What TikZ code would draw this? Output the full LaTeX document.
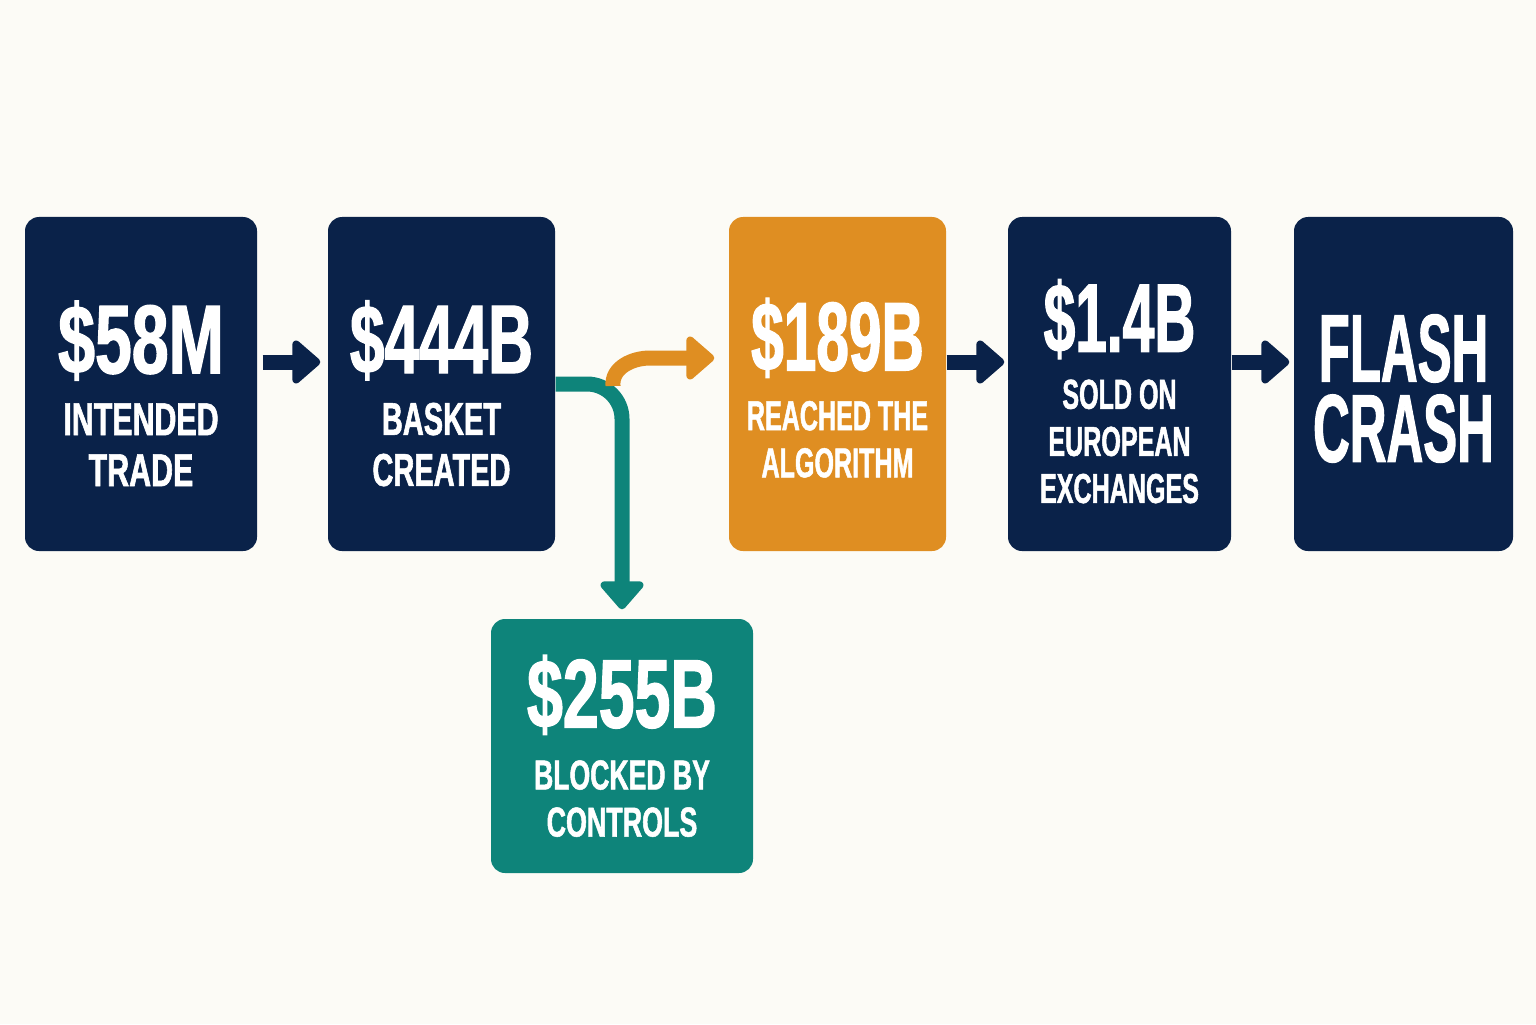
\documentclass[tikz,border=0pt]{standalone}
\usepackage{fontspec}
\usepackage{graphicx}
\usetikzlibrary{arrows.meta}
\newfontfamily\condfont{Liberation Sans}[FakeStretch=0.6,BoldFeatures={FakeBold=1.2}]
\definecolor{navy}{RGB}{10,34,73}
\definecolor{amber}{RGB}{223,142,34}
\definecolor{teal}{RGB}{14,132,122}
\definecolor{paper}{RGB}{252,251,246}
\def\bignum{\fontsize{27.8}{30}\selectfont}
\def\lblA{\fontsize{13.1}{14.5}\selectfont}
\def\lblB{\fontsize{11.9}{13.4}\selectfont}
\def\wide#1#2{\scalebox{#1}[1]{#2}}
\def\topgap#1{\rule{0pt}{#1}}

\begin{document}
\begin{tikzpicture}[
  stagebox/.style={rectangle, rounded corners=0.14cm, text=white, align=center, inner sep=0pt,
    minimum height=3.34cm, font=\condfont\bfseries},
  flowarrow/.style={line width=0.15cm, -{Triangle[length=0.3cm,width=0.5cm,round]}},
]
			%%%%% START %%%%%
			
			\useasboundingbox[fill=paper] (0, 0) rectangle (15.36, 10.24);
			
			\node[stagebox, fill=navy, minimum width=2.32cm, font=\condfont\bfseries\lblA] (b1) at (1.41, 6.40)
				{\topgap{26pt}{\bignum\wide{1.13}{\$58M}}\\[3.1pt]\wide{1.1}{INTENDED}\\\wide{1.1}{TRADE}};
			\node[stagebox, fill=navy, minimum width=2.27cm, font=\condfont\bfseries\lblA] (b2) at (4.415, 6.40)
				{\topgap{26pt}{\bignum\wide{1.06}{\$444B}}\\[3.1pt]\wide{1.05}{BASKET}\\\wide{1.05}{CREATED}};
			\node[stagebox, fill=amber, minimum width=2.17cm, font=\condfont\bfseries\lblB] (b3) at (8.375, 6.40)
				{\topgap{22.8pt}{\bignum \$189B}\\[3.6pt]REACHED THE\\ALGORITHM};
			\node[stagebox, fill=navy, minimum width=2.23cm, font=\condfont\bfseries\lblB] (b4) at (11.195, 6.40)
				{\topgap{24.8pt}{\bignum\wide{0.97}{\$1.4B}}\\[2.8pt]SOLD ON\\EUROPEAN\\EXCHANGES};
			\node[stagebox, fill=navy, minimum width=2.19cm, font=\condfont\bfseries\fontsize{27.4}{22.8}\selectfont] (b5) at (14.035, 6.40)
				{\topgap{21.7pt}\wide{0.88}{FLASH}\\\wide{0.88}{CRASH}};
			
			\node[stagebox, fill=teal, minimum width=2.62cm, minimum height=2.54cm, font=\condfont\bfseries\lblB] (b6) at (6.22, 2.78)
				{{\bignum\wide{1.1}{\$255B}}\\[4.2pt]\wide{1.06}{BLOCKED BY}\\\wide{1.07}{CONTROLS}};
			
			% main line
			\draw[flowarrow, navy, shorten <=0.05cm, shorten >=0.07cm] ([yshift=0.22cm]b1.east) -- ([yshift=0.22cm]b2.west);
			\draw[flowarrow, navy, shorten >=0.03cm] ([yshift=0.22cm]b3.east) -- ([yshift=0.22cm]b4.west);
			\draw[flowarrow, navy, shorten >=0.04cm] ([yshift=0.22cm]b4.east) -- ([yshift=0.22cm]b5.west);
			
			% split
			\draw[flowarrow, teal, rounded corners=0.35cm, shorten >=0.09cm] (b2.east) -| (b6.north);
			\coordinate (otail) at (6.13, 6.38);
			\draw[flowarrow, amber, shorten >=0.14cm] (otail) to[out=95, in=180] (6.5, 6.66) -- ([yshift=0.26cm]b3.west);
			
			%%%%% END %%%%%
		\end{tikzpicture}
\end{document}
